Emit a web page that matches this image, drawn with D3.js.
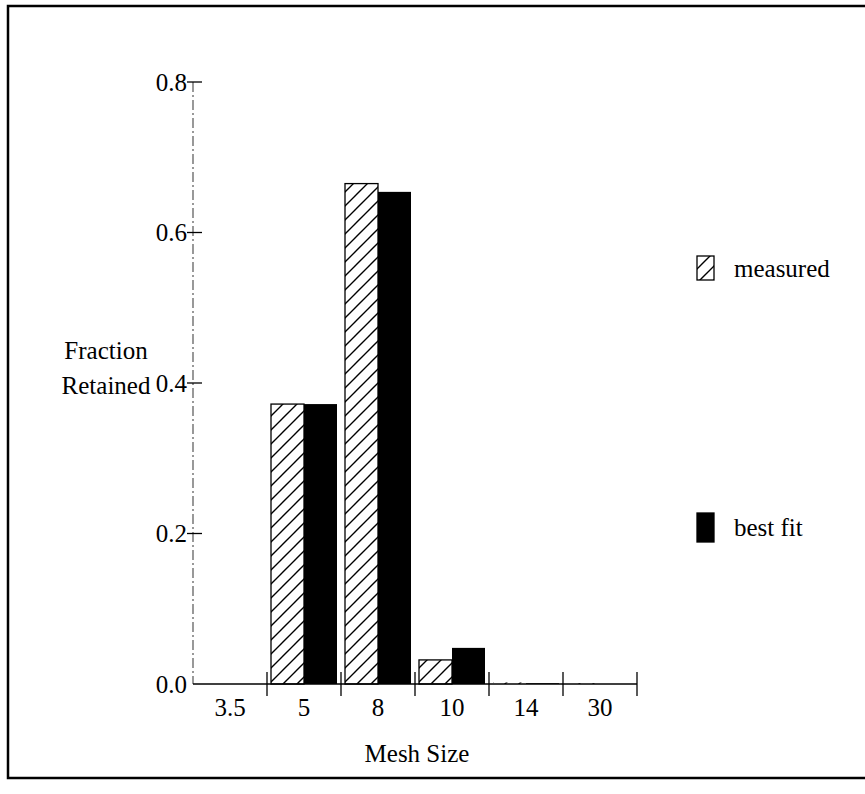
<!DOCTYPE html>
<html>
<head>
<meta charset="utf-8">
<script src="https://cdn.jsdelivr.net/npm/d3@7"></script>
<style>
  body { margin: 0; background: #fff; }
  text { font-family: 'Liberation Serif', 'Times New Roman', serif; fill: #000; }
</style>
</head>
<body>
<div id="chart"></div>
<script>
const meshSizes = ['3.5', '5', '8', '10', '14', '30']
const measured = [0, 0.372, 0.665, 0.032, 0.002, 0.001]
const bestFit = [0, 0.372, 0.654, 0.048, 0.001, 0]
const yTicks = [0, 0.2, 0.4, 0.6, 0.8]

const width = 865
const height = 794
const fontSize = 25

const svg = d3.select('#chart').append('svg')
  .attr('width', width)
  .attr('height', height)

const defs = svg.append('defs')
defs.append('pattern')
  .attr('id', 'hatch')
  .attr('patternUnits', 'userSpaceOnUse')
  .attr('width', 14)
  .attr('height', 14)
  .append('path')
  .attr('d', 'M-1,15 L15,-1 M-8,8 L8,-8 M6,22 L22,6')
  .attr('stroke', '#000')
  .attr('stroke-width', 1.4)

// outer frame
svg.append('rect')
  .attr('x', 8).attr('y', 6)
  .attr('width', 870).attr('height', 772)
  .attr('fill', 'none')
  .attr('stroke', '#000')
  .attr('stroke-width', 2.5)

const x = d3.scaleBand()
  .domain(meshSizes)
  .range([193, 637])
  .paddingInner(0)

const sub = d3.scaleBand()
  .domain(['measured', 'bestFit'])
  .range([4, x.bandwidth() - 4])

const y = d3.scaleLinear()
  .domain([0, 0.8])
  .range([684, 82])

// y axis, dashed line
svg.append('line')
  .attr('x1', 193).attr('x2', 193)
  .attr('y1', y(0.8)).attr('y2', y(0))
  .attr('stroke', '#555')
  .attr('stroke-width', 1.2)
  .attr('stroke-dasharray', '10,3,2,3')

svg.append('g')
  .selectAll('line')
  .data(yTicks.filter(d => d > 0))
  .join('line')
  .attr('x1', 187).attr('x2', 202)
  .attr('y1', d => y(d)).attr('y2', d => y(d))
  .attr('stroke', '#000')
  .attr('stroke-width', 1.3)

svg.append('g')
  .selectAll('text')
  .data(yTicks)
  .join('text')
  .attr('x', 187)
  .attr('y', d => y(d))
  .attr('dy', '0.35em')
  .attr('text-anchor', 'end')
  .attr('font-size', fontSize)
  .text(d => d.toFixed(1))

// bars
const rows = meshSizes.map((m, i) => ({ m, measured: measured[i], bestFit: bestFit[i] }))

const groups = svg.append('g')
  .selectAll('g')
  .data(rows)
  .join('g')
  .attr('transform', d => `translate(${x(d.m)},0)`)

groups.append('rect')
  .attr('x', sub('measured'))
  .attr('width', sub.bandwidth())
  .attr('y', d => y(d.measured))
  .attr('height', d => y(0) - y(d.measured))
  .attr('fill', 'url(#hatch)')
  .attr('stroke', d => d.measured > 0.005 ? '#000' : 'none')
  .attr('stroke-width', 1.3)

groups.append('rect')
  .attr('x', sub('bestFit'))
  .attr('width', sub.bandwidth())
  .attr('y', d => y(d.bestFit))
  .attr('height', d => y(0) - y(d.bestFit))
  .attr('fill', '#000')

// x axis line and category separators
svg.append('line')
  .attr('x1', 193).attr('x2', 637)
  .attr('y1', y(0)).attr('y2', y(0))
  .attr('stroke', '#000')
  .attr('stroke-width', 1.5)

svg.append('g')
  .selectAll('line')
  .data(meshSizes)
  .join('line')
  .attr('x1', d => x(d) + x.bandwidth()).attr('x2', d => x(d) + x.bandwidth())
  .attr('y1', y(0) - 12).attr('y2', y(0) + 12)
  .attr('stroke', '#000')
  .attr('stroke-width', 1.3)

svg.append('g')
  .selectAll('text')
  .data(meshSizes)
  .join('text')
  .attr('x', d => x(d) + x.bandwidth() / 2)
  .attr('y', 716)
  .attr('text-anchor', 'middle')
  .attr('font-size', fontSize)
  .text(d => d)

svg.append('text')
  .attr('x', 417).attr('y', 762)
  .attr('text-anchor', 'middle')
  .attr('font-size', fontSize)
  .text('Mesh Size')

const yLabel = svg.append('text')
  .attr('text-anchor', 'middle')
  .attr('font-size', fontSize)
yLabel.append('tspan').attr('x', 106).attr('y', 359).text('Fraction')
yLabel.append('tspan').attr('x', 106).attr('y', 394).text('Retained')

// legend
const legend = [
  { label: 'measured', fill: 'url(#hatch)', y: 256, h: 24 },
  { label: 'best fit', fill: '#000', y: 513, h: 29 }
]

const lg = svg.append('g')
  .selectAll('g')
  .data(legend)
  .join('g')

lg.append('rect')
  .attr('x', 697).attr('y', d => d.y)
  .attr('width', 17).attr('height', d => d.h)
  .attr('fill', d => d.fill)
  .attr('stroke', '#000')
  .attr('stroke-width', 1.3)

lg.append('text')
  .attr('x', 734)
  .attr('y', d => d.y + d.h / 2)
  .attr('dy', '0.35em')
  .attr('font-size', fontSize)
  .text(d => d.label)
</script>
</body>
</html>
